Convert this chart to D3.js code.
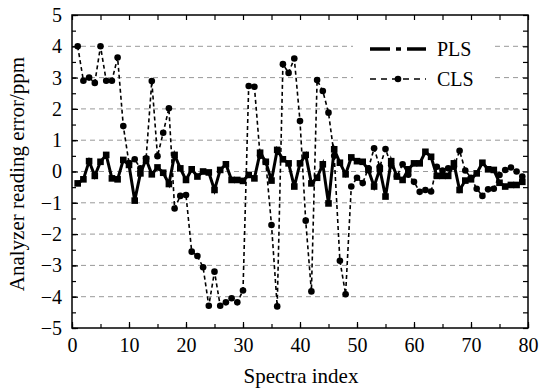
<!DOCTYPE html>
<html>
<head>
<meta charset="utf-8">
<script src="https://cdn.jsdelivr.net/npm/d3@7"></script>
<style>
  body { margin: 0; background: #fff; }
  text { font-family: "Liberation Serif", "Times New Roman", serif; fill: #000; }
</style>
</head>
<body>
<div id="chart"></div>
<script>
// spectra index 1..79
var index = d3.range(1, 80);

var plsValues = [-0.38, -0.25, 0.33, -0.14, 0.31, 0.53, -0.22, -0.25, 0.37, 0.21,
  -0.93, -0.06, 0.39, -0.09, 0.13, -0.04, -0.40, 0.53, 0.10, -0.27,
  0.07, -0.16, 0.0, -0.03, -0.59, 0.05, 0.23, -0.27, -0.27, -0.30,
  -0.11, -0.22, 0.60, 0.31, -0.29, 0.69, 0.39, 0.26, -0.48, 0.26,
  0.53, -0.38, -0.20, 0.23, -1.02, 0.71, 0.28, -0.09, 0.45, 0.33,
  0.31, 0.05, -0.48, 0.08, -0.80, 0.33, -0.16, -0.27, 0.07, 0.26,
  0.26, 0.63, 0.47, -0.14, -0.14, -0.14, 0.26, -0.59, -0.29, -0.25,
  -0.06, 0.28, 0.07, 0.05, -0.36, -0.48, -0.43, -0.43, -0.33];

var clsValues = [4.0, 2.9, 3.0, 2.83, 4.0, 2.9, 2.9, 3.64, 1.45, 0.27,
  0.39, 0.1, 0.42, 2.89, 0.49, 1.24, 2.02, -1.18, -0.78, -0.75,
  -2.56, -2.70, -3.06, -4.29, -3.2, -4.29, -4.18, -4.05, -4.18, -3.8,
  2.73, 2.71, 0.5, 0.3, -1.71, -4.31, 3.43, 3.15, 3.61, 1.61,
  -1.57, -3.83, 2.92, 2.57, 1.88, 0.5, -2.85, -3.92, -0.48, -0.2,
  -0.37, 0.1, 0.74, 0.15, 0.72, 0.2, -0.15, 0.23, -0.1, -0.33,
  -0.65, -0.59, -0.64, 0.15, 0.03, 0.1, 0.15, 0.66, 0.03, -0.2,
  -0.55, -0.78, -0.57, -0.55, -0.11, 0.05, 0.13, 0.0, -0.16];

var xTicks = [0, 10, 20, 30, 40, 50, 60, 70, 80];
var yTicks = [-5, -4, -3, -2, -1, 0, 1, 2, 3, 4, 5];
var seriesNames = ["PLS", "CLS"];

var margin = {top: 15, right: 14, bottom: 61, left: 72},
    width = 542 - margin.left - margin.right,
    height = 389 - margin.top - margin.bottom;

var x = d3.scaleLinear().domain([0, 80]).range([0, width]);
var y = d3.scaleLinear().domain([-5, 5]).range([height, 0]);

var svg = d3.select("#chart").append("svg")
    .attr("width", 542)
    .attr("height", 389)
  .append("g")
    .attr("transform", "translate(" + margin.left + "," + margin.top + ")");

// dashed grid lines
svg.append("g")
  .selectAll("line")
  .data(yTicks.filter(function(d) { return d > -5 && d < 5; }))
  .enter().append("line")
    .attr("x1", 0).attr("x2", width)
    .attr("y1", function(d) { return y(d); })
    .attr("y2", function(d) { return y(d); })
    .style("stroke", "#999")
    .style("stroke-width", 1)
    .style("stroke-dasharray", "5,4");

// axes: ticks pointing inwards on all sides
var minorX = d3.range(0, 81, 5), minorY = d3.range(-5, 5.01, 0.5);

var xAxis = d3.axisBottom(x).tickValues(xTicks).tickSize(-6).tickPadding(10)
    .tickFormat(d3.format("d"));
var yAxis = d3.axisLeft(y).tickValues(yTicks).tickSize(-6).tickPadding(10)
    .tickFormat(function(d) { return d < 0 ? "\u2212" + Math.abs(d) : d; });

function styleAxis(g) {
  g.select(".domain").remove();
  g.selectAll("line").style("stroke", "#000").style("stroke-width", 1.2);
  g.selectAll("text").style("font-size", "20px").style("font-family", "Liberation Serif, serif");
}

svg.append("g").attr("transform", "translate(0," + height + ")")
  .call(xAxis).call(styleAxis);
svg.append("g").attr("transform", "translate(0," + height + ")")
  .call(d3.axisBottom(x).tickValues(minorX).tickSize(-4).tickFormat("")).call(styleAxis);
svg.append("g")
  .call(d3.axisTop(x).tickValues(minorX).tickSize(-5).tickFormat("")).call(styleAxis);

svg.append("g").call(yAxis).call(styleAxis);
svg.append("g")
  .call(d3.axisLeft(y).tickValues(minorY).tickSize(-4).tickFormat("")).call(styleAxis);
svg.append("g").attr("transform", "translate(" + width + ",0)")
  .call(d3.axisRight(y).tickValues(minorY).tickSize(-5).tickFormat("")).call(styleAxis);

// frame
svg.append("rect")
  .attr("width", width).attr("height", height)
  .style("fill", "none").style("stroke", "#000").style("stroke-width", 1.5);

// legend (white background hides grid)
var lg = svg.append("g").attr("transform", "translate(290,18)");
lg.append("rect").attr("x", -9).attr("y", 0).attr("width", 140).attr("height", 56).style("fill", "#fff");

var line = d3.line()
    .x(function(d) { return x(d[0]); })
    .y(function(d) { return y(d[1]); });

var pls = index.map(function(d, i) { return [d, plsValues[i]]; });
var cls = index.map(function(d, i) { return [d, clsValues[i]]; });

// CLS: thin dashed line with round markers
svg.append("path").datum(cls)
  .attr("d", line)
  .style("fill", "none").style("stroke", "#000")
  .style("stroke-width", 1.6).style("stroke-dasharray", "4,3");
svg.selectAll(".cls").data(cls).enter().append("circle")
  .attr("class", "cls")
  .attr("cx", function(d) { return x(d[0]); })
  .attr("cy", function(d) { return y(d[1]); })
  .attr("r", 3.3).style("fill", "#000");

// PLS: thick solid line with square markers
svg.append("path").datum(pls)
  .attr("d", line)
  .style("fill", "none").style("stroke", "#000")
  .style("stroke-width", 3).style("stroke-linejoin", "miter");
svg.selectAll(".pls").data(pls).enter().append("rect")
  .attr("class", "pls")
  .attr("x", function(d) { return x(d[0]) - 3.3; })
  .attr("y", function(d) { return y(d[1]) - 3.3; })
  .attr("width", 6.6).attr("height", 6.6).style("fill", "#000");

// legend entries
lg.append("line").attr("x1", 8).attr("x2", 64).attr("y1", 16).attr("y2", 16)
  .style("stroke", "#000").style("stroke-width", 3.5).style("stroke-dasharray", "20,6,5,6");
lg.append("text").attr("x", 75).attr("y", 23).style("font-size", "20px").text(seriesNames[0]);

lg.append("line").attr("x1", 8).attr("x2", 64).attr("y1", 46).attr("y2", 46)
  .style("stroke", "#000").style("stroke-width", 1.5).style("stroke-dasharray", "6,5");
lg.append("circle").attr("cx", 36).attr("cy", 46).attr("r", 3.3).style("fill", "#000");
lg.append("text").attr("x", 75).attr("y", 53).style("font-size", "20px").text(seriesNames[1]);

// axis titles
svg.append("text")
  .attr("x", width / 2 + 1).attr("y", height + 55)
  .style("text-anchor", "middle").style("font-size", "21px")
  .text("Spectra index");

svg.append("text")
  .attr("transform", "rotate(-90)")
  .attr("x", -159).attr("y", -48)
  .style("text-anchor", "middle").style("font-size", "21px")
  .text("Analyzer reading error/ppm");
</script>
</body>
</html>
